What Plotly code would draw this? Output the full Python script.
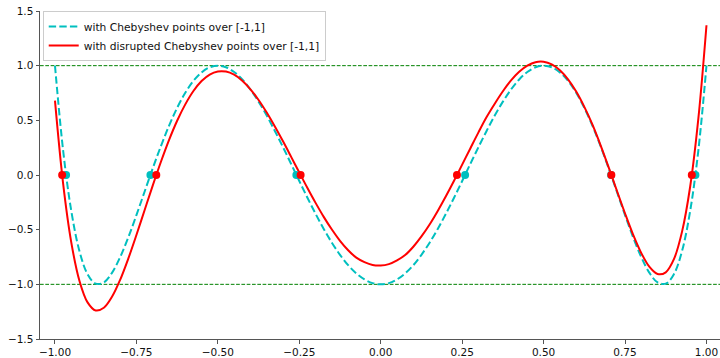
import plotly.graph_objects as go

# sample positions over [-1, 1]
x_samples = [-1.000, -0.975, -0.950, -0.925, -0.900, -0.875, -0.850, -0.825, -0.800, -0.775,
             -0.750, -0.725, -0.700, -0.675, -0.650, -0.625, -0.600, -0.575, -0.550, -0.525,
             -0.500, -0.475, -0.450, -0.425, -0.400, -0.375, -0.350, -0.325, -0.300, -0.275,
             -0.250, -0.225, -0.200, -0.175, -0.150, -0.125, -0.100, -0.075, -0.050, -0.025,
             0.000, 0.025, 0.050, 0.075, 0.100, 0.125, 0.150, 0.175, 0.200, 0.225,
             0.250, 0.275, 0.300, 0.325, 0.350, 0.375, 0.400, 0.425, 0.450, 0.475,
             0.500, 0.525, 0.550, 0.575, 0.600, 0.625, 0.650, 0.675, 0.700, 0.725,
             0.750, 0.775, 0.800, 0.825, 0.850, 0.875, 0.900, 0.925, 0.950, 0.975, 1.000]

# curve with Chebyshev points
cheb_curve = [1.000, 0.224, -0.328, -0.695, -0.907, -0.994, -0.983, -0.895, -0.752, -0.571,
              -0.367, -0.153, 0.060, 0.263, 0.450, 0.614, 0.752, 0.861, 0.938, 0.985,
              1.000, 0.985, 0.942, 0.874, 0.782, 0.671, 0.544, 0.403, 0.255, 0.101,
              -0.055, -0.208, -0.355, -0.493, -0.619, -0.730, -0.825, -0.900, -0.955, -0.989,
              -1.000, -0.989, -0.955, -0.900, -0.825, -0.730, -0.619, -0.493, -0.355, -0.208,
              -0.055, 0.101, 0.255, 0.403, 0.544, 0.671, 0.782, 0.874, 0.942, 0.985,
              1.000, 0.985, 0.938, 0.861, 0.752, 0.614, 0.450, 0.263, 0.060, -0.153,
              -0.367, -0.571, -0.752, -0.895, -0.983, -0.994, -0.907, -0.695, -0.328, 0.224, 1.000]

# curve with disrupted Chebyshev points
disrupted_curve = [0.680, -0.079, -0.616, -0.967, -1.165, -1.239, -1.214, -1.114, -0.959, -0.765,
                   -0.549, -0.322, -0.097, 0.119, 0.319, 0.496, 0.646, 0.768, 0.859, 0.919,
                   0.947, 0.946, 0.917, 0.862, 0.784, 0.686, 0.571, 0.444, 0.308, 0.166,
                   0.023, -0.119, -0.255, -0.383, -0.499, -0.602, -0.688, -0.756, -0.797, -0.823,
                   -0.828, -0.815, -0.781, -0.732, -0.656, -0.562, -0.453, -0.329, -0.195, -0.053,
                   0.095, 0.243, 0.390, 0.530, 0.652, 0.766, 0.865, 0.944, 1.000, 1.032,
                   1.036, 1.012, 0.958, 0.875, 0.763, 0.623, 0.460, 0.271, 0.067, -0.144,
                   -0.352, -0.547, -0.715, -0.841, -0.906, -0.890, -0.770, -0.518, -0.105, 0.515, 1.370]

cheb_nodes = [-0.966, -0.707, -0.259, 0.259, 0.707, 0.966]
disrupted_nodes = [-0.978, -0.689, -0.246, 0.234, 0.708, 0.955]
node_values = [0, 0, 0, 0, 0, 0]

bounds = [-1, 1]

x_tickvals = [-1.0, -0.75, -0.5, -0.25, 0.0, 0.25, 0.5, 0.75, 1.0]
x_ticktext = ["\u22121.00", "\u22120.75", "\u22120.50", "\u22120.25", "0.00", "0.25", "0.50", "0.75", "1.00"]
y_tickvals = [-1.5, -1.0, -0.5, 0.0, 0.5, 1.0, 1.5]
y_ticktext = ["\u22121.5", "\u22121.0", "\u22120.5", "0.0", "0.5", "1.0", "1.5"]

CYAN = "#00bfbf"
RED = "#ff0000"
FONT = "DejaVu Sans"
AXIS = "#555555"

fig = go.Figure()
fig.add_trace(go.Scatter(x=x_samples, y=cheb_curve, mode="lines",
                         name="with Chebyshev points over [-1,1]",
                         line=dict(color=CYAN, width=2, dash="7.4px,3.2px", shape="spline")))
fig.add_trace(go.Scatter(x=x_samples, y=disrupted_curve, mode="lines",
                         name="with disrupted Chebyshev points over [-1,1]",
                         line=dict(color=RED, width=2, shape="spline")))
fig.add_trace(go.Scatter(x=cheb_nodes, y=node_values, mode="markers", showlegend=False,
                         marker=dict(color=CYAN, size=8)))
fig.add_trace(go.Scatter(x=disrupted_nodes, y=node_values, mode="markers", showlegend=False,
                         marker=dict(color=RED, size=8)))

for b in bounds:
    fig.add_shape(type="line", xref="paper", x0=0, x1=1, yref="y", y0=b, y1=b,
                  line=dict(color="#008000", width=1, dash="3.7px,1.6px"), layer="below")

fig.update_layout(
    width=720, height=358,
    margin=dict(l=40, r=0, t=11, b=17),
    paper_bgcolor="white", plot_bgcolor="white",
    font=dict(family=FONT, size=10.5, color="#111111"),
    showlegend=True,
    legend=dict(x=0.004, y=1.0, xanchor="left", yanchor="top",
                bgcolor="rgba(255,255,255,0.8)", bordercolor="#cccccc", borderwidth=1,
                font=dict(family=FONT, size=10.7, color="#111111"), itemwidth=30,
                tracegroupgap=0),
    xaxis=dict(range=[-1.046, 1.0415], showgrid=False, zeroline=False,
               showline=True, linecolor=AXIS, linewidth=1,
               ticks="outside", ticklen=3.5, tickcolor=AXIS, tickwidth=1,
               tickvals=x_tickvals, ticktext=x_ticktext),
    yaxis=dict(range=[-1.5, 1.5], showgrid=False, zeroline=False,
               showline=True, linecolor=AXIS, linewidth=1,
               ticks="outside", ticklen=3.5, tickcolor=AXIS, tickwidth=1,
               tickvals=y_tickvals, ticktext=y_ticktext),
)

fig.write_html("out.html")
